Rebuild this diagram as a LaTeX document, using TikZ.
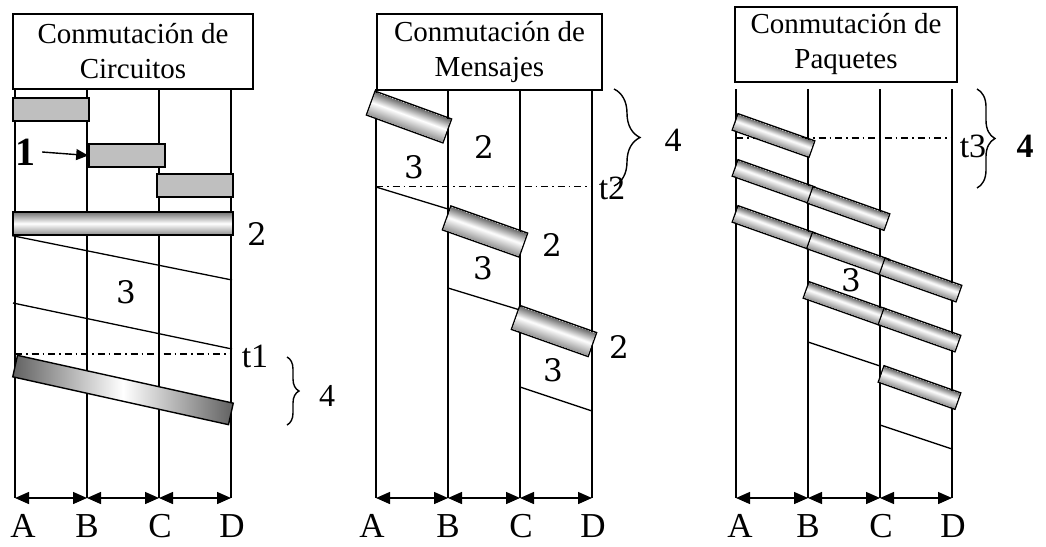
\documentclass[tikz,border=0pt]{standalone}
\usepackage{fontspec}
\setmainfont{Liberation Serif}
\newfontfamily\digitfont{DejaVu Serif}
\usetikzlibrary{arrows.meta, positioning, decorations.pathreplacing}

% tube shadings, dark on top and bottom, light band inside
\pgfdeclareverticalshading{pipe}{80pt}{color(0pt)=(black!42); color(9pt)=(white); color(16pt)=(black!58)}
\pgfdeclareverticalshading{pipewide}{80pt}{color(0pt)=(black!42); color(13pt)=(white); color(24pt)=(black!58)}

\begin{document}
\begin{tikzpicture}[
  x=1pt, y=-1pt,
  wire/.style={line width=1.7pt},
  trace/.style={line width=1.3pt},
  timeline/.style={line width=1.2pt, dash pattern=on 7pt off 4pt on 1.5pt off 4pt},
  title/.style={draw, line width=1.6pt, align=center, inner sep=0pt, fill=white,
                font=\fontsize{29}{35}\selectfont},
  slot/.style={draw, line width=1.6pt, fill=black!25, inner sep=0pt},
  tube/.style={draw, line width=1.4pt, inner sep=0pt,
               top color=black!55, bottom color=black!45, middle color=white},
  pipebox/.style={draw, line width=1.4pt, inner sep=0.7pt},
  slab/.style={draw, line width=1.4pt, inner sep=0pt,
               left color=black!62, right color=black!62, middle color=white},
  num/.style={font=\fontsize{31}{34}\selectfont\digitfont, inner sep=0pt},
  tag/.style={font=\fontsize{34}{38}\selectfont, inner sep=0pt},
  letter/.style={font=\fontsize{35}{38}\selectfont, inner sep=0pt},
  span/.style={{Triangle[length=14pt,width=12pt]}-{Triangle[length=14pt,width=12pt]}, line width=1.4pt},
  pointer/.style={-{Triangle[length=12pt,width=11pt]}, line width=1.4pt},
  curly/.style={decorate, decoration={brace, amplitude=#1}, line width=1.4pt}
]
  \useasboundingbox (0,0) rectangle (1046,546);

  % stations A B C D of each scheme
  \foreach \p/\x/\ax in {1/15/8, 2/376/-4, 3/736/4} {
    \foreach \n/\d in {A/0, B/72, C/144, D/216} {
      \coordinate (\p\n-top) at (\x+\d, 89);
      \coordinate (\p\n-bot) at (\x+\d, 498);
      \draw[wire] (\p\n-top) -- (\p\n-bot);
    }
    \draw[span] (\p A-bot) -- (\p B-bot);
    \draw[span] (\p B-bot) -- (\p C-bot);
    \draw[span] (\p C-bot) -- (\p D-bot);
    \node[letter] (\p A-lbl) at (\x+\ax, 526) {A};
    \node[letter] (\p B-lbl) at (\x+72, 526) {B};
    \node[letter] (\p C-lbl) at (\x+145, 526) {C};
    \node[letter] (\p D-lbl) at (\x+217, 526) {D};
  }

  % circuitos
  \node[title, minimum width=240pt, minimum height=75pt] (circ) at (133,51.5)
    {Conmutación de\\Circuitos};
  \node[slot, minimum width=76pt, minimum height=23pt] (cs1) at (51,109.5) {};
  \node[slot, minimum width=76pt, minimum height=23pt] (cs2) at (127,155.5) {};
  \node[slot, minimum width=76pt, minimum height=23pt] (cs3) at (195,185.5) {};
  \node[inner sep=0pt, font=\fontsize{40}{44}\selectfont\bfseries] (one) at (26,152) {1};
  \draw[pointer] ([xshift=6pt]one.east) -- (cs2.west);
  \node[tube, minimum width=220pt, minimum height=23pt] (cbar) at (123,223.5) {};
  \node[num] (c2) at (257,234) {2};
  \draw[trace] (cbar.south west) -- (232,280);
  \draw[trace] (13,303) -- (232,349);
  \node[num] (c3) at (126,292) {3};
  \draw[timeline] (15,354) -- (232,354);
  \node[tag] (t1) at (255,356) {t1};
  \node[slab, minimum width=221pt, minimum height=22pt, rotate=-12.5] (cslab) at (123,390) {};
  \draw[curly=12pt] (287,357) -- (287,425);
  \node[tag, font=\fontsize{32}{36}\selectfont] (c4) at (327,396) {4};

  % mensajes
  \node[title, minimum width=225pt, minimum height=76pt] (mens) at (489.5,52)
    {Conmutación de\\Mensajes};
  \node[pipebox, rotate=-20] (m1) at (409,117) {\pgfuseshading{pipewide}};
  \node[num] (m2a) at (484,147) {2};
  \node[num] (m3a) at (414,167) {3};
  \draw[timeline] (376,186.5) -- (592,186.5);
  \node[tag] (t2) at (612,188) {t2};
  \draw[curly=26pt] (614,89) -- (614,186);
  \node[tag] (m4) at (673,140) {4};
  \draw[trace] (376,187) -- (448,209);
  \node[pipebox, rotate=-19.5] (m2) at (485,231.5) {\pgfuseshading{pipewide}};
  \node[num] (m2b) at (552,245) {2};
  \node[num] (m3b) at (483,268) {3};
  \draw[trace] (448,288) -- (520,310);
  \node[pipebox, rotate=-19.5] (m3) at (554,331) {\pgfuseshading{pipewide}};
  \node[num] (m2c) at (619,347) {2};
  \node[num] (m3c) at (553,370) {3};
  \draw[trace] (520,387) -- (592,411);

  % paquetes
  \node[title, minimum width=222pt, minimum height=75pt] (paq) at (846,44.5)
    {Conmutación de\\Paquetes};
  \draw[timeline] (736,138) -- (952,138);
  \foreach \c/\y [count=\i] in {773.5/135.5, 773.5/181.5, 848.5/208.5,
      773.5/227.5, 848/254, 920.5/280, 844.5/303.5, 919.5/330, 919.5/387.5}
    \node[pipebox, rotate=-19.5] (pk\i) at (\c,\y) {\pgfuseshading{pipe}};
  \node[num] (p3) at (851,280) {3};
  \draw[trace] (808,342) -- (880,366);
  \draw[trace] (880,425) -- (952,449);
  \node[tag] (t3) at (973,146) {t3};
  \draw[curly=18pt] (977,89) -- (977,188);
  \node[tag, font=\fontsize{34}{38}\selectfont\bfseries] (p4) at (1025,146) {4};
\end{tikzpicture}
\end{document}
